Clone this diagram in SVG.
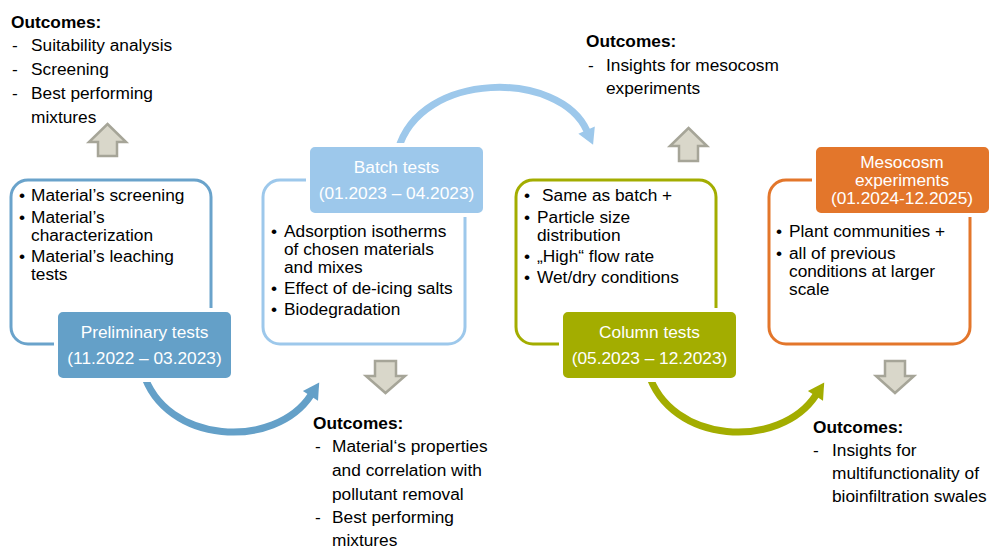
<svg xmlns="http://www.w3.org/2000/svg" width="989" height="550" viewBox="0 0 989 550">
<style>
text{font-family:"Liberation Sans",Arial,sans-serif;font-size:17.3px;fill:#000}
.b{font-weight:bold}
.t{fill:#fff;text-anchor:middle}
.blk{fill:#d9d7ca;stroke:#a6a598;stroke-width:2.5;stroke-linejoin:miter}
.ol{fill:#fff;stroke-width:3}
.fb{stroke:#fff;stroke-width:4}
.cv{fill:none;stroke-width:7}
</style>
<defs>
<marker id="mA" markerUnits="userSpaceOnUse" markerWidth="20" markerHeight="22" viewBox="0 -11 18 22" refX="1" refY="0" orient="auto"><path d="M0,-9 L16,0 L0,9 z" fill="#64a0c8"/></marker>
<marker id="mB" markerUnits="userSpaceOnUse" markerWidth="20" markerHeight="22" viewBox="0 -11 18 22" refX="1" refY="0" orient="auto"><path d="M0,-9 L16,0 L0,9 z" fill="#9dc8eb"/></marker>
<marker id="mC" markerUnits="userSpaceOnUse" markerWidth="20" markerHeight="22" viewBox="0 -11 18 22" refX="1" refY="0" orient="auto"><path d="M0,-9 L16,0 L0,9 z" fill="#a3ad00"/></marker>
</defs>
<rect width="989" height="550" fill="#fff"/>
<g id="connectors">
<path class="cv" d="M143 372 C165 445,275 450,311 395" stroke="#64a0c8" marker-end="url(#mA)"/>
<path class="cv" d="M398 150 C420 70,560 70,587 131" stroke="#9dc8eb" marker-end="url(#mB)"/>
<path class="cv" d="M648 372 C670 445,780 450,816 395" stroke="#a3ad00" marker-end="url(#mC)"/>
</g>
<g id="outcomes-preliminary">
<text class="b" x="11" y="28">Outcomes:</text>
<text x="12" y="51">-</text><text x="31" y="51">Suitability analysis</text>
<text x="12" y="75">-</text><text x="31" y="75">Screening</text>
<text x="12" y="99">-</text><text x="31" y="99">Best performing</text>
<text x="31" y="123">mixtures</text>
<polygon class="blk" points="107.5,124 126,142 117,142 117,156 98,156 98,142 89,142"/>
</g>
<g id="preliminary">
<rect class="ol" x="11" y="180" width="200" height="164" rx="17" stroke="#6aa3cb"/>
<text x="19" y="201">•</text><text x="31" y="201">Material’s screening</text>
<text x="19" y="223">•</text><text x="31" y="223">Material’s</text>
<text x="31" y="241">characterization</text>
<text x="19" y="262">•</text><text x="31" y="262">Material’s leaching</text>
<text x="31" y="280">tests</text>
<rect class="fb" x="56" y="310" width="177" height="70" rx="7" fill="#64a0c8"/>
<text class="t" x="144.5" y="338">Preliminary tests</text>
<text class="t" x="144.5" y="364">(11.2022 – 03.2023)</text>
</g>
<g id="batch">
<rect class="ol" x="263" y="180" width="202" height="164" rx="17" stroke="#9dc8eb"/>
<rect class="fb" x="308" y="145" width="177" height="70" rx="7" fill="#9dc8eb"/>
<text class="t" x="396.5" y="173">Batch tests</text>
<text class="t" x="396.5" y="199">(01.2023 – 04.2023)</text>
<text x="271" y="237">•</text><text x="284" y="237">Adsorption isotherms</text>
<text x="284" y="255">of chosen materials</text>
<text x="284" y="273">and mixes</text>
<text x="271" y="294">•</text><text x="284" y="294">Effect of de-icing salts</text>
<text x="271" y="315">•</text><text x="284" y="315">Biodegradation</text>
</g>
<g id="outcomes-batch">
<polygon class="blk" points="375,361 396,361 396,376 405,376 385.5,393 366,376 375,376"/>
<text class="b" x="313" y="429">Outcomes:</text>
<text x="315" y="452">-</text><text x="332" y="452">Material‘s properties</text>
<text x="332" y="476">and correlation with</text>
<text x="332" y="500">pollutant removal</text>
<text x="315" y="523">-</text><text x="332" y="523">Best performing</text>
<text x="332" y="546">mixtures</text>
</g>
<g id="column">
<rect class="ol" x="516" y="180" width="200" height="164" rx="17" stroke="#a3ad00"/>
<text x="524" y="201">•</text><text x="542" y="201">Same as batch +</text>
<text x="524" y="223">•</text><text x="537" y="223">Particle size</text>
<text x="537" y="241">distribution</text>
<text x="524" y="262">•</text><text x="537" y="262">„High“ flow rate</text>
<text x="524" y="283">•</text><text x="537" y="283">Wet/dry conditions</text>
<rect class="fb" x="561" y="310" width="177" height="70" rx="7" fill="#a3ad00"/>
<text class="t" x="649.5" y="338">Column tests</text>
<text class="t" x="649.5" y="364">(05.2023 – 12.2023)</text>
</g>
<g id="outcomes-column">
<text class="b" x="586" y="47">Outcomes:</text>
<text x="588" y="71">-</text><text x="606" y="71">Insights for mesocosm</text>
<text x="606" y="94">experiments</text>
<polygon class="blk" points="688.5,128 707,146 698,146 698,161 679,161 679,146 670,146"/>
</g>
<g id="mesocosm">
<rect class="ol" x="769" y="180" width="201" height="164" rx="17" stroke="#e3762b"/>
<rect class="fb" x="814" y="145" width="177" height="70" rx="7" fill="#e3762b"/>
<text class="t" x="902" y="168">Mesocosm</text>
<text class="t" x="902" y="186">experiments</text>
<text class="t" x="902" y="204">(01.2024-12.2025)</text>
<text x="776" y="237">•</text><text x="789" y="237">Plant communities +</text>
<text x="776" y="259">•</text><text x="789" y="259">all of previous</text>
<text x="789" y="277">conditions at larger</text>
<text x="789" y="295">scale</text>
</g>
<g id="outcomes-mesocosm">
<polygon class="blk" points="885,361 905,361 905,376 914,376 895,393 876,376 885,376"/>
<text class="b" x="813" y="433">Outcomes:</text>
<text x="813" y="456">-</text><text x="832" y="456">Insights for</text>
<text x="832" y="479">multifunctionality of</text>
<text x="832" y="502">bioinfiltration swales</text>
</g>
</svg>
